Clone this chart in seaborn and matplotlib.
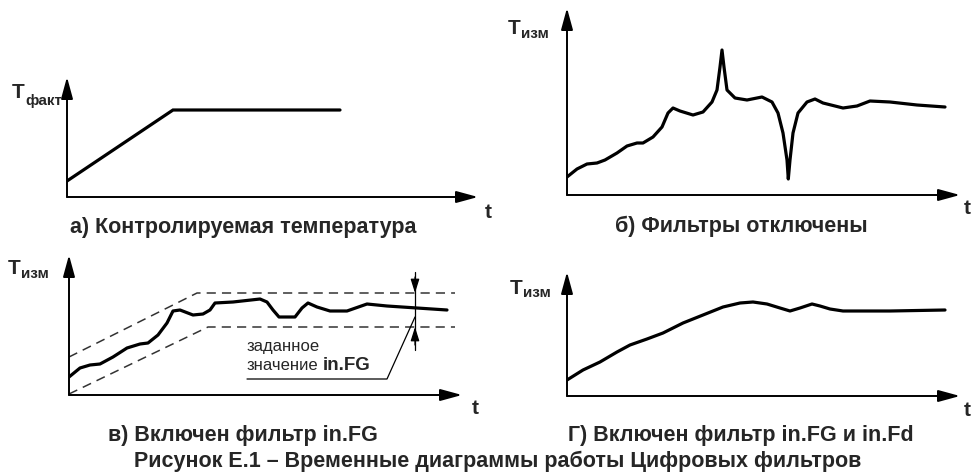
import matplotlib
matplotlib.use("Agg")
import matplotlib.pyplot as plt
import seaborn as sns
import pandas as pd

# ---------------- data ----------------
# а) controlled temperature
a_t = [0, 106, 273]
a_T = [16, 87, 87]

# б) filters off
b_t = [0, 10, 20, 30, 38, 50, 60, 70, 76, 86, 95, 101, 106, 113, 126, 136, 145, 150, 153,
       155, 157, 160, 168, 180, 195, 205, 211, 216, 220, 221.3, 223, 226, 231, 240, 248,
       256, 276, 290, 303, 323, 350, 378]
b_T = [18, 26, 31, 32, 35, 42, 49, 52, 52, 58, 68, 82, 87, 84, 80, 83, 93, 105, 128,
       145, 128, 105, 97, 95, 98, 93, 82, 62, 35, 16, 35, 62, 82, 93, 96,
       92, 87, 89, 94, 93, 90, 88]

# в) filter in.FG on
c_t = [0, 11, 21, 31, 44, 58, 71, 79, 89, 98, 104, 111, 124, 134, 141, 146, 164, 191,
       198, 204, 210, 226, 233, 239, 248, 261, 278, 298, 318, 348, 378]
c_T = [18, 27, 30, 31, 38, 47, 51, 52, 60, 72, 84, 85, 80, 81, 85, 92, 93, 96,
       93, 85, 78, 78, 87, 92, 88, 84, 84, 91, 89, 87, 85]
c_band_t = [0, 128, 386]
c_band_hi = [38, 102, 102]
c_band_lo_t = [0, 139, 386]
c_band_lo = [1, 68, 68]

# г) filters in.FG and in.Fd on
d_t = [0, 16, 33, 50, 63, 80, 96, 116, 136, 156, 173, 186, 200, 213, 223, 233, 245,
       253, 263, 276, 323, 378]
d_T = [16, 26, 34, 44, 51, 57, 63, 73, 81, 89, 93, 94, 92, 88, 85, 88, 92,
       90, 87, 85, 85, 86]

captions = ["а) Контролируемая температура", "б) Фильтры отключены",
            "в) Включен фильтр in.FG", "Г) Включен фильтр in.FG и in.Fd"]
y_labels = ["факт", "изм", "изм", "изм"]
fig_caption = "Рисунок Е.1 – Временные диаграммы работы Цифровых фильтров"

# ---------------- figure ----------------
sns.set_theme(style="white")
plt.rcParams["font.family"] = ["Liberation Sans", "DejaVu Sans"]

FW, FH = 973, 475
fig = plt.figure(figsize=(FW / 100, FH / 100), dpi=100)
fig.patch.set_facecolor("white")


def make_ax(x0, y0, w, h):
    ax = fig.add_axes([x0 / FW, 1 - y0 / FH, w / FW, h / FH])
    ax.set_xlim(0, w)
    ax.set_ylim(0, h)
    ax.axis("off")
    arrow = dict(arrowstyle="-|>,head_length=1.1,head_width=0.3", lw=1.4,
                 color="black", shrinkA=0, shrinkB=0)
    ax.annotate("", xy=(w, 0), xytext=(0, 0), arrowprops=arrow, annotation_clip=False)
    ax.annotate("", xy=(0, h), xytext=(0, 0), arrowprops=arrow, annotation_clip=False)
    return ax


def ftext(px, py, s, **kw):
    fig.text(px / FW, 1 - py / FH, s, **kw)


curve_kw = dict(color="black", linewidth=2.3, estimator=None, sort=False)

# panel а
axA = make_ax(67, 197, 411, 120)
sns.lineplot(x=a_t, y=a_T, ax=axA, solid_joinstyle="miter", **curve_kw)

# panel б
axB = make_ax(567, 195, 393, 187)
sns.lineplot(x=b_t, y=b_T, ax=axB, solid_joinstyle="round", **curve_kw)

# panel в
axC = make_ax(69, 395, 393, 140)
sns.lineplot(x=c_band_t, y=c_band_hi, ax=axC, color="#333333", linewidth=1.1,
             linestyle=(0, (6, 4)), estimator=None, sort=False)
sns.lineplot(x=c_band_lo_t, y=c_band_lo, ax=axC, color="#333333", linewidth=1.1,
             linestyle=(0, (6, 4)), estimator=None, sort=False)
sns.lineplot(x=c_t, y=c_T, ax=axC, solid_joinstyle="round", **curve_kw)
# tolerance marker
mx = 346
axC.plot([mx, mx], [45, 123], color="black", lw=0.9, clip_on=False)
small = dict(arrowstyle="-|>,head_length=0.7,head_width=0.22", lw=0.9,
             color="black", shrinkA=0, shrinkB=0)
axC.annotate("", xy=(mx, c_band_hi[-1]), xytext=(mx, 118), arrowprops=small,
             annotation_clip=False)
axC.annotate("", xy=(mx, c_band_lo[-1]), xytext=(mx, 50), arrowprops=small,
             annotation_clip=False)
axC.plot([178, 318, mx], [16, 16, 78], color="black", lw=0.9, clip_on=False)
axC.text(178, 48, "заданное", fontsize=12, va="center", ha="left")
axC.text(178, 29, "значение", fontsize=12, va="center", ha="left")
axC.text(254, 29, "in.FG", fontsize=13.5, va="center", ha="left", fontweight="bold")

# panel г
axD = make_ax(567, 396, 393, 124)
sns.lineplot(x=d_t, y=d_T, ax=axD, solid_joinstyle="round", **curve_kw)

# axis labels
for (tx, ty, sx, sy), sub in zip([(12, 93, 25, 101), (508, 28, 521, 34),
                                   (8, 268, 21, 274), (510, 288, 523, 293)], y_labels):
    ftext(tx, ty, "T", fontsize=15, fontweight="bold", va="center", ha="left")
    ftext(sx, sy, sub, fontsize=11, fontweight="bold", va="center", ha="left")

for px, py in [(488, 212), (967, 209), (475, 409), (967, 411)]:
    ftext(px, py, "t", fontsize=15, fontweight="bold", va="center", ha="center")

# captions
for (px, py), cap in zip([(70, 228), (615, 226), (108, 435), (568, 435)], captions):
    ftext(px, py, cap, fontsize=15.5, fontweight="bold", va="center", ha="left")
ftext(498, 461, fig_caption, fontsize=15.5, fontweight="bold", va="center", ha="center")

fig.savefig("out.png", dpi=100, facecolor="white")
